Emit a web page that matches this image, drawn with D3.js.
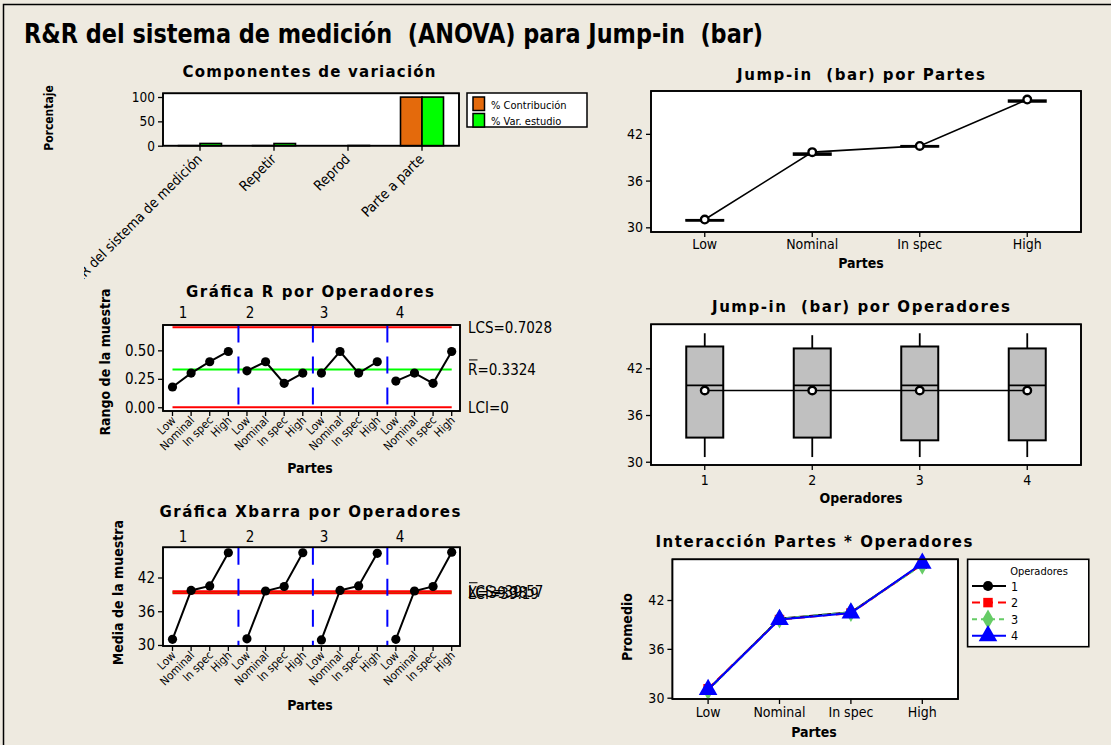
<!DOCTYPE html>
<html>
<head>
<meta charset="utf-8">
<script src="https://cdn.jsdelivr.net/npm/d3@7"></script>
<style>
  body { margin: 0; background: #EEEAE0; }
  svg { display: block; }
  text { font-family: 'DejaVu Sans Condensed', 'DejaVu Sans', sans-serif; fill: #000; white-space: pre; }
  text.ptitle { font-family: 'DejaVu Sans', sans-serif; }
</style>
</head>
<body>
<svg id="chart" width="1111" height="745"></svg>
<script>
// ---- Components of variation ----
const componentCats = ["R&R del sistema de medición", "Repetir", "Reprod", "Parte a parte"];
const componentSeries = ["% Contribución", "% Var. estudio"];
const pctContribution = [0.21, 0.21, 0.0, 99.79];
const pctStudyVar = [4.6, 4.5, 0.4, 99.89];

// ---- Parts and operators ----
const parts = ["Low", "Nominal", "In spec", "High"];
const operators = ["1", "2", "3", "4"];

// Subgroup ranges (rows = operators, columns = parts)
const rangeByOperator = [
  [0.178, 0.30, 0.40, 0.49],
  [0.32, 0.40, 0.21, 0.30],
  [0.30, 0.49, 0.30, 0.40],
  [0.23, 0.30, 0.21, 0.49]
];
// Subgroup means (rows = operators, columns = parts)
const meanByOperator = [
  [31.0, 39.7, 40.5, 46.4],
  [31.1, 39.6, 40.4, 46.4],
  [30.9, 39.7, 40.5, 46.3],
  [31.0, 39.6, 40.4, 46.5]
];
const rCenter = 0.3324, rUCL = 0.7028, rLCL = 0;
const xCenter = 39.38, xUCL = 39.57, xLCL = 39.19;

// Box plot summaries by part
const partQ1 = [30.85, 39.30, 40.35, 46.12];
const partMedian = [30.90, 39.40, 40.40, 46.20];
const partQ3 = [30.95, 39.50, 40.45, 46.30];

// Box plot summaries by operator
const opMin = [30.6, 30.6, 30.6, 30.6];
const opQ1 = [33.1, 33.1, 32.75, 32.75];
const opMedian = [39.8, 39.8, 39.8, 39.8];
const opQ3 = [44.8, 44.55, 44.8, 44.55];
const opMax = [46.5, 46.25, 46.5, 46.5];
const opMean = [39.15, 39.15, 39.15, 39.15];

// Tick values
const pctTicks = [0, 50, 100];
const rangeTicks = [0, 0.25, 0.5];
const measureTicks = [30, 36, 42];

// ---- styles ----
const C_ORANGE = "#E46A0C", C_GREEN = "#00FF00", C_BOX = "#C0C0C0";
const opColor = ["#000000", "#FF0000", "#66CC66", "#0000FF"];
const opDash = [null, "8,5", "5,4", null];
const opSymbol = [d3.symbolCircle, d3.symbolSquare, d3.symbolDiamond, d3.symbolTriangle];
const opSymbolSize = [80, 90, 110, 150];

const svg = d3.select("#chart");

svg.append("rect").attr("x", 3.5).attr("y", 4.5).attr("width", 1130).attr("height", 760)
  .attr("fill", "#EEEAE0").attr("stroke", "#000").attr("stroke-width", 1.5);

svg.append("text").attr("x", 24).attr("y", 43)
  .style("font-size", "26px").style("font-weight", "bold")
  .attr("textLength", 739).attr("lengthAdjust", "spacingAndGlyphs")
  .text("R&R del sistema de medición  (ANOVA) para Jump-in  (bar)");

function panelTitle(txt, cx, y, w) {
  svg.append("text").attr("class", "ptitle").attr("x", cx).attr("y", y).attr("text-anchor", "middle")
    .style("font-size", "15px").style("font-weight", "bold")
    .attr("textLength", w).attr("lengthAdjust", "spacing")
    .text(txt);
}
function frame(x0, y0, x1, y1) {
  return svg.append("rect").attr("x", x0).attr("y", y0).attr("width", x1 - x0).attr("height", y1 - y0)
    .attr("fill", "#fff").attr("stroke", "#000").attr("stroke-width", 1.6);
}
function frameEdge(x0, y0, x1, y1) {
  svg.append("rect").attr("x", x0).attr("y", y0).attr("width", x1 - x0).attr("height", y1 - y0)
    .attr("fill", "none").attr("stroke", "#000").attr("stroke-width", 1.6);
}
function yAxis(scale, x, ticks, fmt, size) {
  const g = svg.append("g").attr("transform", `translate(${x},0)`)
    .call(d3.axisLeft(scale).tickValues(ticks).tickFormat(fmt).tickSize(5).tickPadding(3));
  g.select(".domain").remove();
  g.selectAll(".tick line").attr("stroke", "#000").attr("stroke-width", 1.3);
  g.selectAll(".tick text").style("font-size", size + "px");
  g.attr("font-family", null).attr("font-size", null);
  return g;
}
function xTicks(xs, y) {
  svg.append("g").selectAll("line").data(xs).join("line")
    .attr("x1", d => d).attr("x2", d => d).attr("y1", y).attr("y2", y + 5)
    .attr("stroke", "#000").attr("stroke-width", 1.3);
}
function axisTitle(txt, x, y, rotate, size) {
  const t = svg.append("text").style("font-size", (size || 14) + "px").style("font-weight", "bold")
    .attr("text-anchor", "middle").text(txt);
  if (rotate) t.attr("transform", `translate(${x},${y}) rotate(-90)`);
  else t.attr("x", x).attr("y", y);
}
function rotatedLabels(parent, xs, labels, y, size) {
  parent.append("g").selectAll("text").data(labels).join("text")
    .attr("transform", (d, i) => `translate(${xs[i]},${y}) rotate(-45)`)
    .attr("text-anchor", "end").style("font-size", size + "px").text(d => d);
}

// =============== Componentes de variación ===============
{
  const L = 163, R = 459, T = 93.3, B = 145.7;
  const x = d3.scaleBand().domain(componentCats).range([L, R]);
  const y = d3.scaleLinear().domain([0, 107.6]).range([B, T]);
  const bw = 21.5;
  panelTitle("Componentes de variación", 309, 77, 253);
  frame(L, T, R, B);
  const series = [pctContribution, pctStudyVar];
  const colors = [C_ORANGE, C_GREEN];
  series.forEach((vals, s) => {
    svg.append("g").selectAll("rect").data(componentCats).join("rect")
      .attr("x", d => x(d) + x.bandwidth() / 2 + (s === 0 ? -bw : 0))
      .attr("y", (d, i) => y(vals[i]))
      .attr("width", bw)
      .attr("height", (d, i) => y(0) - y(vals[i]))
      .attr("fill", colors[s]).attr("stroke", "#000").attr("stroke-width", 1.6);
  });
  frameEdge(L, T, R, B);
  yAxis(y, L, pctTicks, d3.format("d"), 13.5);
  const cx = componentCats.map(c => x(c) + x.bandwidth() / 2);
  xTicks(cx, B);
  svg.append("clipPath").attr("id", "compClip").append("rect")
    .attr("x", 84).attr("y", 0).attr("width", 500).attr("height", 400);
  const lg = svg.append("g").attr("clip-path", "url(#compClip)");
  rotatedLabels(lg, cx.map(v => v + 3), componentCats, 160, 14);
  axisTitle("Porcentaje", 53, 118, true, 12);

  // legend
  svg.append("rect").attr("x", 467).attr("y", 93).attr("width", 120).attr("height", 34)
    .attr("fill", "#fff").attr("stroke", "#000").attr("stroke-width", 1.5);
  componentSeries.forEach((name, i) => {
    svg.append("rect").attr("x", 473).attr("y", 97 + i * 16.5).attr("width", 11.5).attr("height", 13.5)
      .attr("fill", colors[i]).attr("stroke", "#000").attr("stroke-width", 1.5);
    svg.append("text").attr("x", 491).attr("y", 108.5 + i * 16)
      .style("font-size", "11px").text(name);
  });
}

// =============== Gráfica R / Xbarra por Operadores ===============
const nSub = operators.length * parts.length;
const subIdx = d3.range(nSub);
const subPart = subIdx.map(i => parts[i % parts.length]);
const xSub = d3.scaleLinear().domain([0, nSub - 1]).range([172.5, 451.7]);
const groupLabelX = [183, 250, 324, 400];

function controlPanel(opts) {
  const { T, B, y, values, center, ucl, lcl, ticks, fmt, title, titleY, titleW, yTitle, yTitleX, labelY, partesY, rightLabels, topLabelY } = opts;
  const L = 163, R = 460;
  panelTitle(title, 310, titleY, titleW);
  frame(L, T, R, B);
  // control limits
  const x0 = xSub(0), x1 = xSub(nSub - 1);
  svg.append("line").attr("x1", x0).attr("x2", x1).attr("y1", y(center)).attr("y2", y(center))
    .attr("stroke", C_GREEN).attr("stroke-width", 2);
  [ucl, lcl].forEach(v => svg.append("line").attr("x1", x0).attr("x2", x1).attr("y1", y(v)).attr("y2", y(v))
    .attr("stroke", "#FF0000").attr("stroke-width", 2));
  // operator dividers
  d3.range(1, operators.length).forEach(k => {
    const xv = xSub(k * parts.length - 0.5) + 0.8;
    svg.append("line").attr("x1", xv).attr("x2", xv).attr("y1", T + 0.5).attr("y2", B - 0.5)
      .attr("stroke", "#0000FF").attr("stroke-width", 2).attr("stroke-dasharray", "17,14");
  });
  // series per operator
  values.forEach((row, o) => {
    const pts = row.map((v, p) => [xSub(o * parts.length + p), y(v)]);
    svg.append("path").attr("d", d3.line()(pts)).attr("fill", "none").attr("stroke", "#000").attr("stroke-width", 2);
    svg.append("g").selectAll("circle").data(pts).join("circle")
      .attr("cx", d => d[0]).attr("cy", d => d[1]).attr("r", 4.6).attr("fill", "#000");
  });
  frameEdge(L, T, R, B);
  yAxis(y, L, ticks, fmt, 15);
  xTicks(subIdx.map(xSub), B);
  rotatedLabels(svg, subIdx.map(i => xSub(i) + 4), subPart, labelY, 11.5);
  axisTitle("Partes", 310, partesY);
  axisTitle(yTitle, yTitleX, (T + B) / 2 - 4 + (opts.yTitleShift || 0), true);
  operators.forEach((op, k) => {
    svg.append("text").attr("x", groupLabelX[k]).attr("y", topLabelY).attr("text-anchor", "middle")
      .style("font-size", "15px").text(op);
  });
  rightLabels.forEach(r => {
    svg.append("text").attr("x", 468).attr("y", y(r.v) + 5.5).style("font-size", "15px").text(r.t);
    if (r.bar) svg.append("line").attr("x1", 469).attr("x2", 477.5).attr("y1", y(r.v) - 9.5).attr("y2", y(r.v) - 9.5)
      .attr("stroke", "#000").attr("stroke-width", 1);
  });
}

controlPanel({
  T: 325, B: 411,
  y: d3.scaleLinear().domain([-0.0327, 0.7226]).range([411, 325]),
  values: rangeByOperator, center: rCenter, ucl: rUCL, lcl: rLCL,
  ticks: rangeTicks, fmt: d3.format(".2f"),
  title: "Gráfica R por Operadores", titleY: 297, titleW: 248,
  yTitle: "Rango de la muestra", yTitleX: 110, yTitleShift: -2,
  labelY: 421, partesY: 473, topLabelY: 318,
  rightLabels: [
    { v: rUCL, t: "LCS=" + rUCL.toFixed(4) },
    { v: rCenter, t: "R=" + rCenter.toFixed(4), bar: true },
    { v: rLCL, t: "LCI=" + rLCL }
  ]
});

controlPanel({
  T: 547.3, B: 646,
  y: d3.scaleLinear().domain([29.82, 47.37]).range([646, 547.3]),
  values: meanByOperator, center: xCenter, ucl: xUCL, lcl: xLCL,
  ticks: measureTicks, fmt: d3.format("d"),
  title: "Gráfica Xbarra por Operadores", titleY: 517, titleW: 301,
  yTitle: "Media de la muestra", yTitleX: 123, yTitleShift: 0,
  labelY: 656, partesY: 710, topLabelY: 541.5,
  rightLabels: [
    { v: xUCL, t: "LCS=" + xUCL.toFixed(2) },
    { v: xCenter, t: "X=" + xCenter.toFixed(2), bar: true },
    { v: xLCL, t: "LCI=" + xLCL.toFixed(2) }
  ]
});

// =============== Box-plot helpers ===============
function boxPlot(cx, hw, y, q1, med, q3, lo, hi) {
  const g = svg.append("g");
  if (lo != null) {
    g.append("line").attr("x1", cx).attr("x2", cx).attr("y1", y(q1)).attr("y2", y(lo)).attr("stroke", "#000").attr("stroke-width", 1.8);
    g.append("line").attr("x1", cx).attr("x2", cx).attr("y1", y(q3)).attr("y2", y(hi)).attr("stroke", "#000").attr("stroke-width", 1.8);
  }
  g.append("rect").attr("x", cx - hw).attr("y", y(q3)).attr("width", 2 * hw).attr("height", Math.max(0.5, y(q1) - y(q3)))
    .attr("fill", C_BOX).attr("stroke", "#000").attr("stroke-width", 2);
  g.append("line").attr("x1", cx - hw).attr("x2", cx + hw).attr("y1", y(med)).attr("y2", y(med)).attr("stroke", "#000").attr("stroke-width", 1.8);
}
function meanMarks(pts) {
  svg.append("path").attr("d", d3.line()(pts)).attr("fill", "none").attr("stroke", "#000").attr("stroke-width", 1.6);
  svg.append("g").selectAll("circle").data(pts).join("circle")
    .attr("cx", d => d[0]).attr("cy", d => d[1]).attr("r", 3.8)
    .attr("fill", "#fff").attr("stroke", "#000").attr("stroke-width", 2.4);
}

// =============== Jump-in (bar) por Partes ===============
{
  const L = 651, R = 1081, T = 91, B = 232;
  const x = d3.scaleBand().domain(parts).range([L, R]);
  const y = d3.scaleLinear().domain([29.4, 47.5]).range([B, T]);
  const cx = p => x(p) + x.bandwidth() / 2;
  panelTitle("Jump-in  (bar) por Partes", 861, 80, 248);
  frame(L, T, R, B);
  const partMean = parts.map((p, j) => d3.mean(meanByOperator, row => row[j]));
  parts.forEach((p, j) => boxPlot(cx(p), 18.5, y, partQ1[j], partMedian[j], partQ3[j]));
  meanMarks(parts.map((p, j) => [cx(p), y(partMean[j])]));
  frameEdge(L, T, R, B);
  yAxis(y, L, measureTicks, d3.format("d"), 14);
  xTicks(parts.map(cx), B);
  svg.append("g").selectAll("text").data(parts).join("text")
    .attr("x", cx).attr("y", 249).attr("text-anchor", "middle").style("font-size", "14px").text(d => d);
  axisTitle("Partes", 861, 268);
}

// =============== Jump-in (bar) por Operadores ===============
{
  const L = 651, R = 1081, T = 324.3, B = 465;
  const x = d3.scaleBand().domain(operators).range([L, R]);
  const y = d3.scaleLinear().domain([29.58, 47.65]).range([B, T]);
  const cx = o => x(o) + x.bandwidth() / 2;
  panelTitle("Jump-in  (bar) por Operadores", 861, 312, 298);
  frame(L, T, R, B);
  operators.forEach((o, k) => boxPlot(cx(o), 18.5, y, opQ1[k], opMedian[k], opQ3[k], opMin[k], opMax[k]));
  meanMarks(operators.map((o, k) => [cx(o), y(opMean[k])]));
  frameEdge(L, T, R, B);
  yAxis(y, L, measureTicks, d3.format("d"), 14);
  xTicks(operators.map(cx), B);
  svg.append("g").selectAll("text").data(operators).join("text")
    .attr("x", cx).attr("y", 485).attr("text-anchor", "middle").style("font-size", "14px").text(d => d);
  axisTitle("Operadores", 861, 503);
}

// =============== Interacción Partes * Operadores ===============
{
  const L = 672.4, R = 958, T = 559.3, B = 699;
  const x = d3.scaleBand().domain(parts).range([L, R]);
  const y = d3.scaleLinear().domain([29.84, 47.0]).range([B, T]);
  const cx = p => x(p) + x.bandwidth() / 2;
  panelTitle("Interacción Partes * Operadores", 814, 547, 317);
  frame(L, T, R, B);
  const sym = k => d3.symbol().type(opSymbol[k]).size(opSymbolSize[k]);
  meanByOperator.forEach((row, k) => {
    const pts = row.map((v, j) => [cx(parts[j]), y(v)]);
    svg.append("path").attr("d", d3.line()(pts)).attr("fill", "none")
      .attr("stroke", opColor[k]).attr("stroke-width", 2).attr("stroke-dasharray", opDash[k]);
    svg.append("g").selectAll("path").data(pts).join("path")
      .attr("transform", d => `translate(${d[0]},${d[1]})`).attr("d", sym(k)()).attr("fill", opColor[k]);
  });
  frameEdge(L, T, R, B);
  yAxis(y, L, measureTicks, d3.format("d"), 14);
  xTicks(parts.map(cx), B);
  svg.append("g").selectAll("text").data(parts).join("text")
    .attr("x", cx).attr("y", 717).attr("text-anchor", "middle").style("font-size", "14px").text(d => d);
  axisTitle("Partes", 814, 737);
  axisTitle("Promedio", 632, 627, true);

  // legend
  svg.append("rect").attr("x", 967.6).attr("y", 559.3).attr("width", 121.2).attr("height", 87.4)
    .attr("fill", "#fff").attr("stroke", "#000").attr("stroke-width", 1.6);
  svg.append("text").attr("x", 1039).attr("y", 574.5).attr("text-anchor", "middle")
    .style("font-size", "11px").text("Operadores");
  operators.forEach((op, k) => {
    const ly = 586 + k * 16.6;
    svg.append("line").attr("x1", 972).attr("x2", 1006).attr("y1", ly).attr("y2", ly)
      .attr("stroke", opColor[k]).attr("stroke-width", 2).attr("stroke-dasharray", opDash[k]);
    svg.append("path").attr("transform", `translate(988,${ly})`).attr("d", sym(k)()).attr("fill", opColor[k]);
    svg.append("text").attr("x", 1011).attr("y", ly + 4.5).style("font-size", "12.5px").text(op);
  });
}
</script>
</body>
</html>
